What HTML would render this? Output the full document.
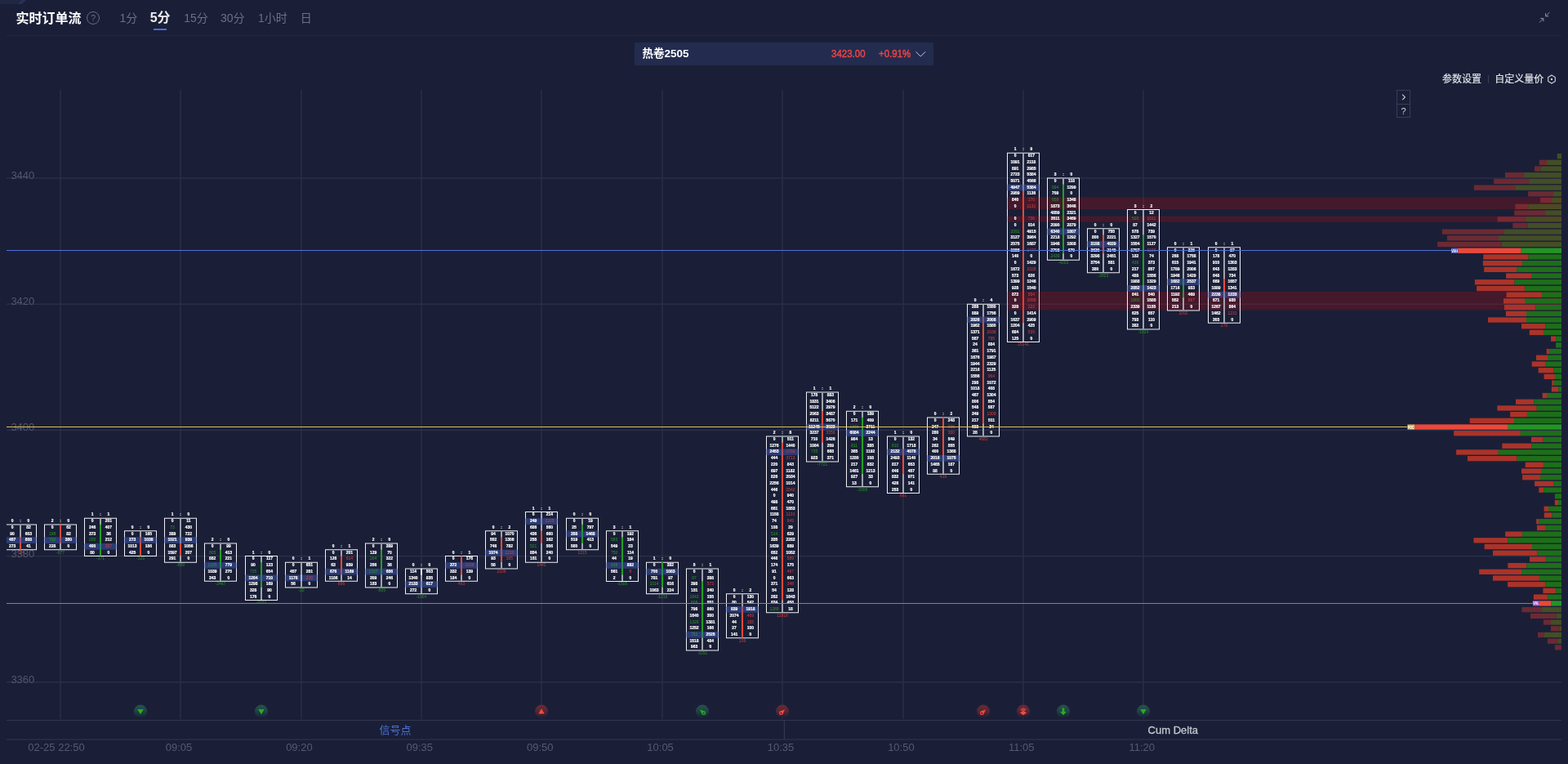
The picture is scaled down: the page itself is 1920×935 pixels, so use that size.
<!DOCTYPE html>
<html lang="zh-CN"><head><meta charset="utf-8"><title>实时订单流</title>
<style>
html,body{margin:0;padding:0;background:#1a1f37;}
body{width:1920px;height:935px;position:relative;overflow:hidden;font-family:"Liberation Sans","Noto Sans CJK SC",sans-serif;}
.abs{position:absolute;white-space:nowrap;line-height:1;}
.tab{font-size:14px;color:#6b7088;top:15px;}
</style></head><body>
<svg width="1920" height="935" viewBox="0 0 1920 935" style="position:absolute;left:0;top:0" font-family="'Liberation Sans',sans-serif">
<rect x="73" y="110" width="2" height="770" fill="#252a41"/>
<rect x="220" y="110" width="2" height="770" fill="#252a41"/>
<rect x="368" y="110" width="2" height="770" fill="#252a41"/>
<rect x="515" y="110" width="2" height="770" fill="#252a41"/>
<rect x="662" y="110" width="2" height="770" fill="#252a41"/>
<rect x="810" y="110" width="2" height="770" fill="#252a41"/>
<rect x="957" y="110" width="2" height="770" fill="#252a41"/>
<rect x="1105" y="110" width="2" height="770" fill="#252a41"/>
<rect x="1252" y="110" width="2" height="770" fill="#252a41"/>
<rect x="1399" y="110" width="2" height="770" fill="#252a41"/>
<rect x="8" y="217.25" width="1904" height="1.5" fill="#2a2f47"/>
<rect x="8" y="371.45" width="1904" height="1.5" fill="#2a2f47"/>
<rect x="8" y="525.65" width="1904" height="1.5" fill="#2a2f47"/>
<rect x="8" y="679.85" width="1904" height="1.5" fill="#2a2f47"/>
<rect x="8" y="834.05" width="1904" height="1.5" fill="#2a2f47"/>
<text x="13.4" y="219.0" font-size="13" fill="#53576d">3440</text>
<text x="13.4" y="373.2" font-size="13" fill="#53576d">3420</text>
<text x="13.4" y="527.4" font-size="13" fill="#53576d">3400</text>
<text x="13.4" y="681.6" font-size="13" fill="#53576d">3380</text>
<text x="13.4" y="835.8" font-size="13" fill="#53576d">3360</text>
<clipPath id="cc"><rect x="8" y="100" width="1904" height="800"/></clipPath>
<g clip-path="url(#cc)">
<g transform="translate(25,0)">
<path d="M-20,641.5h40v31.8h-40z M-19,642.5v29.8h38v-29.8z" fill="#f0f0f5" fill-rule="evenodd"/>
<rect x="-1" y="642.5" width="2" height="29.8" fill="#a0a3ad"/>
<rect x="-1" y="657.3" width="2" height="15.4" fill="#f04a38"/>
<rect x="-20" y="657.3" width="40" height="7.71" fill="#415ebb" fill-opacity="0.46"/>
</g>
<g transform="translate(74,0)">
<path d="M-20,641.5h40v31.8h-40z M-19,642.5v29.8h38v-29.8z" fill="#f0f0f5" fill-rule="evenodd"/>
<rect x="-1" y="642.5" width="2" height="29.8" fill="#a0a3ad"/>
<rect x="-1" y="641.9" width="2" height="23.1" fill="#f04a38"/>
<rect x="-20" y="657.3" width="40" height="7.71" fill="#415ebb" fill-opacity="0.46"/>
</g>
<g transform="translate(123,0)">
<path d="M-20,633.8h40v47.2h-40z M-19,634.8v45.2h38v-45.2z" fill="#f0f0f5" fill-rule="evenodd"/>
<rect x="-1" y="634.8" width="2" height="45.2" fill="#a0a3ad"/>
<rect x="-1" y="641.9" width="2" height="38.5" fill="#22a022"/>
<rect x="-20" y="665.0" width="40" height="7.71" fill="#415ebb" fill-opacity="0.46"/>
</g>
<g transform="translate(172,0)">
<path d="M-20,649.2h40v31.8h-40z M-19,650.2v29.8h38v-29.8z" fill="#f0f0f5" fill-rule="evenodd"/>
<rect x="-1" y="650.2" width="2" height="29.8" fill="#a0a3ad"/>
<rect x="-1" y="657.3" width="2" height="23.1" fill="#f04a38"/>
<rect x="-20" y="657.3" width="40" height="7.71" fill="#415ebb" fill-opacity="0.46"/>
</g>
<g transform="translate(221,0)">
<path d="M-20,633.8h40v55.0h-40z M-19,634.8v53.0h38v-53.0z" fill="#f0f0f5" fill-rule="evenodd"/>
<rect x="-1" y="634.8" width="2" height="53.0" fill="#a0a3ad"/>
<rect x="-1" y="665.0" width="2" height="15.4" fill="#f04a38"/>
<rect x="-20" y="657.3" width="40" height="7.71" fill="#415ebb" fill-opacity="0.46"/>
</g>
<g transform="translate(270,0)">
<path d="M-20,664.6h40v47.2h-40z M-19,665.6v45.2h38v-45.2z" fill="#f0f0f5" fill-rule="evenodd"/>
<rect x="-1" y="665.6" width="2" height="45.2" fill="#a0a3ad"/>
<rect x="-1" y="672.7" width="2" height="23.1" fill="#22a022"/>
<rect x="-20" y="688.1" width="40" height="7.71" fill="#415ebb" fill-opacity="0.46"/>
</g>
<g transform="translate(320,0)">
<path d="M-20,680.0h40v55.0h-40z M-19,681.0v53.0h38v-53.0z" fill="#f0f0f5" fill-rule="evenodd"/>
<rect x="-1" y="681.0" width="2" height="53.0" fill="#a0a3ad"/>
<rect x="-1" y="688.1" width="2" height="30.8" fill="#22a022"/>
<rect x="-20" y="703.5" width="40" height="7.71" fill="#415ebb" fill-opacity="0.46"/>
</g>
<g transform="translate(369,0)">
<path d="M-20,687.7h40v31.8h-40z M-19,688.7v29.8h38v-29.8z" fill="#f0f0f5" fill-rule="evenodd"/>
<rect x="-1" y="688.7" width="2" height="29.8" fill="#a0a3ad"/>
<rect x="-1" y="703.5" width="2" height="7.7" fill="#ffffff"/>
<rect x="-20" y="703.5" width="40" height="7.71" fill="#415ebb" fill-opacity="0.46"/>
</g>
<g transform="translate(418,0)">
<path d="M-20,672.3h40v39.5h-40z M-19,673.3v37.5h38v-37.5z" fill="#f0f0f5" fill-rule="evenodd"/>
<rect x="-1" y="673.3" width="2" height="37.5" fill="#a0a3ad"/>
<rect x="-1" y="680.4" width="2" height="23.1" fill="#f04a38"/>
<rect x="-20" y="695.8" width="40" height="7.71" fill="#415ebb" fill-opacity="0.46"/>
</g>
<g transform="translate(467,0)">
<path d="M-20,664.6h40v55.0h-40z M-19,665.6v53.0h38v-53.0z" fill="#f0f0f5" fill-rule="evenodd"/>
<rect x="-1" y="665.6" width="2" height="53.0" fill="#a0a3ad"/>
<rect x="-1" y="672.7" width="2" height="30.8" fill="#22a022"/>
<rect x="-20" y="695.8" width="40" height="7.71" fill="#415ebb" fill-opacity="0.46"/>
</g>
<g transform="translate(516,0)">
<path d="M-20,695.4h40v31.8h-40z M-19,696.4v29.8h38v-29.8z" fill="#f0f0f5" fill-rule="evenodd"/>
<rect x="-1" y="696.4" width="2" height="29.8" fill="#a0a3ad"/>
<rect x="-1" y="695.8" width="2" height="7.7" fill="#ffffff"/>
<rect x="-20" y="711.2" width="40" height="7.71" fill="#415ebb" fill-opacity="0.46"/>
</g>
<g transform="translate(565,0)">
<path d="M-20,680.0h40v31.8h-40z M-19,681.0v29.8h38v-29.8z" fill="#f0f0f5" fill-rule="evenodd"/>
<rect x="-1" y="681.0" width="2" height="29.8" fill="#a0a3ad"/>
<rect x="-1" y="680.4" width="2" height="23.1" fill="#f04a38"/>
<rect x="-20" y="688.1" width="40" height="7.71" fill="#415ebb" fill-opacity="0.46"/>
</g>
<g transform="translate(614,0)">
<path d="M-20,649.2h40v47.2h-40z M-19,650.2v45.2h38v-45.2z" fill="#f0f0f5" fill-rule="evenodd"/>
<rect x="-1" y="650.2" width="2" height="45.2" fill="#a0a3ad"/>
<rect x="-1" y="657.3" width="2" height="30.8" fill="#f04a38"/>
<rect x="-20" y="672.7" width="40" height="7.71" fill="#415ebb" fill-opacity="0.46"/>
</g>
<g transform="translate(663,0)">
<path d="M-20,626.0h40v62.7h-40z M-19,627.0v60.7h38v-60.7z" fill="#f0f0f5" fill-rule="evenodd"/>
<rect x="-1" y="627.0" width="2" height="60.7" fill="#a0a3ad"/>
<rect x="-1" y="649.6" width="2" height="15.4" fill="#f04a38"/>
<rect x="-20" y="634.2" width="40" height="7.71" fill="#415ebb" fill-opacity="0.46"/>
</g>
<g transform="translate(713,0)">
<path d="M-20,633.8h40v39.5h-40z M-19,634.8v37.5h38v-37.5z" fill="#f0f0f5" fill-rule="evenodd"/>
<rect x="-1" y="634.8" width="2" height="37.5" fill="#a0a3ad"/>
<rect x="-1" y="641.9" width="2" height="23.1" fill="#22a022"/>
<rect x="-20" y="649.6" width="40" height="7.71" fill="#415ebb" fill-opacity="0.46"/>
</g>
<g transform="translate(762,0)">
<path d="M-20,649.2h40v62.7h-40z M-19,650.2v60.7h38v-60.7z" fill="#f0f0f5" fill-rule="evenodd"/>
<rect x="-1" y="650.2" width="2" height="60.7" fill="#a0a3ad"/>
<rect x="-1" y="657.3" width="2" height="46.2" fill="#22a022"/>
<rect x="-20" y="688.1" width="40" height="7.71" fill="#415ebb" fill-opacity="0.46"/>
</g>
<g transform="translate(811,0)">
<path d="M-20,687.7h40v39.5h-40z M-19,688.7v37.5h38v-37.5z" fill="#f0f0f5" fill-rule="evenodd"/>
<rect x="-1" y="688.7" width="2" height="37.5" fill="#a0a3ad"/>
<rect x="-1" y="688.1" width="2" height="30.8" fill="#22a022"/>
<rect x="-20" y="695.8" width="40" height="7.71" fill="#415ebb" fill-opacity="0.46"/>
</g>
<g transform="translate(860,0)">
<path d="M-20,695.4h40v101.2h-40z M-19,696.4v99.2h38v-99.2z" fill="#f0f0f5" fill-rule="evenodd"/>
<rect x="-1" y="696.4" width="2" height="99.2" fill="#a0a3ad"/>
<rect x="-1" y="711.2" width="2" height="69.4" fill="#22a022"/>
<rect x="-20" y="772.9" width="40" height="7.71" fill="#415ebb" fill-opacity="0.46"/>
</g>
<g transform="translate(909,0)">
<path d="M-20,726.2h40v55.0h-40z M-19,727.2v53.0h38v-53.0z" fill="#f0f0f5" fill-rule="evenodd"/>
<rect x="-1" y="727.2" width="2" height="53.0" fill="#a0a3ad"/>
<rect x="-1" y="742.1" width="2" height="38.5" fill="#f04a38"/>
<rect x="-20" y="742.1" width="40" height="7.71" fill="#415ebb" fill-opacity="0.46"/>
</g>
<g transform="translate(958,0)">
<path d="M-20,533.5h40v216.8h-40z M-19,534.5v214.8h38v-214.8z" fill="#f0f0f5" fill-rule="evenodd"/>
<rect x="-1" y="534.5" width="2" height="214.8" fill="#a0a3ad"/>
<rect x="-1" y="541.7" width="2" height="192.7" fill="#f04a38"/>
<rect x="-20" y="549.4" width="40" height="7.71" fill="#415ebb" fill-opacity="0.46"/>
</g>
<g transform="translate(1007,0)">
<path d="M-20,479.6h40v85.8h-40z M-19,480.6v83.8h38v-83.8z" fill="#f0f0f5" fill-rule="evenodd"/>
<rect x="-1" y="480.6" width="2" height="83.8" fill="#a0a3ad"/>
<rect x="-1" y="503.1" width="2" height="38.5" fill="#f04a38"/>
<rect x="-20" y="518.5" width="40" height="7.71" fill="#415ebb" fill-opacity="0.46"/>
</g>
<g transform="translate(1056,0)">
<path d="M-20,502.7h40v93.5h-40z M-19,503.7v91.5h38v-91.5z" fill="#f0f0f5" fill-rule="evenodd"/>
<rect x="-1" y="503.7" width="2" height="91.5" fill="#a0a3ad"/>
<rect x="-1" y="510.8" width="2" height="69.4" fill="#22a022"/>
<rect x="-20" y="526.2" width="40" height="7.71" fill="#415ebb" fill-opacity="0.46"/>
</g>
<g transform="translate(1106,0)">
<path d="M-20,533.5h40v70.4h-40z M-19,534.5v68.4h38v-68.4z" fill="#f0f0f5" fill-rule="evenodd"/>
<rect x="-1" y="534.5" width="2" height="68.4" fill="#a0a3ad"/>
<rect x="-1" y="549.4" width="2" height="30.8" fill="#f04a38"/>
<rect x="-20" y="549.4" width="40" height="7.71" fill="#415ebb" fill-opacity="0.46"/>
</g>
<g transform="translate(1155,0)">
<path d="M-20,510.4h40v70.4h-40z M-19,511.4v68.4h38v-68.4z" fill="#f0f0f5" fill-rule="evenodd"/>
<rect x="-1" y="511.4" width="2" height="68.4" fill="#a0a3ad"/>
<rect x="-1" y="510.8" width="2" height="46.2" fill="#f04a38"/>
<rect x="-20" y="557.1" width="40" height="7.71" fill="#415ebb" fill-opacity="0.46"/>
</g>
<g transform="translate(1204,0)">
<path d="M-20,371.7h40v162.9h-40z M-19,372.7v160.9h38v-160.9z" fill="#f0f0f5" fill-rule="evenodd"/>
<rect x="-1" y="372.7" width="2" height="160.9" fill="#a0a3ad"/>
<rect x="-1" y="387.5" width="2" height="131.0" fill="#f04a38"/>
<rect x="-20" y="387.5" width="40" height="7.71" fill="#415ebb" fill-opacity="0.46"/>
</g>
<g transform="translate(1253,0)">
<path d="M-20,186.7h40v232.2h-40z M-19,187.7v230.2h38v-230.2z" fill="#f0f0f5" fill-rule="evenodd"/>
<rect x="-1" y="187.7" width="2" height="230.2" fill="#a0a3ad"/>
<rect x="-1" y="233.3" width="2" height="161.9" fill="#f04a38"/>
<rect x="-20" y="225.6" width="40" height="7.71" fill="#415ebb" fill-opacity="0.46"/>
</g>
</g>
<rect x="1233" y="241.3" width="679" height="14.9" fill="#ff0000" fill-opacity="0.185"/>
<rect x="1233" y="264.5" width="679" height="7.2" fill="#ff0000" fill-opacity="0.185"/>
<rect x="1233" y="357.0" width="679" height="22.6" fill="#ff0000" fill-opacity="0.185"/>
<g clip-path="url(#cc)">
<g transform="translate(1302,0)">
<path d="M-20,217.5h40v101.2h-40z M-19,218.5v99.2h38v-99.2z" fill="#f0f0f5" fill-rule="evenodd"/>
<rect x="-1" y="218.5" width="2" height="99.2" fill="#a0a3ad"/>
<rect x="-1" y="225.6" width="2" height="84.8" fill="#22a022"/>
<rect x="-20" y="279.6" width="40" height="7.71" fill="#415ebb" fill-opacity="0.46"/>
</g>
<g transform="translate(1351,0)">
<path d="M-20,279.2h40v55.0h-40z M-19,280.2v53.0h38v-53.0z" fill="#f0f0f5" fill-rule="evenodd"/>
<rect x="-1" y="280.2" width="2" height="53.0" fill="#a0a3ad"/>
<rect x="-1" y="287.3" width="2" height="23.1" fill="#f04a38"/>
<rect x="-20" y="295.0" width="40" height="7.71" fill="#415ebb" fill-opacity="0.46"/>
</g>
<g transform="translate(1400,0)">
<path d="M-20,256.1h40v147.5h-40z M-19,257.1v145.5h38v-145.5z" fill="#f0f0f5" fill-rule="evenodd"/>
<rect x="-1" y="257.1" width="2" height="145.5" fill="#a0a3ad"/>
<rect x="-1" y="287.3" width="2" height="61.7" fill="#22a022"/>
<rect x="-20" y="349.0" width="40" height="7.71" fill="#415ebb" fill-opacity="0.46"/>
</g>
<g transform="translate(1449,0)">
<path d="M-20,302.3h40v78.1h-40z M-19,303.3v76.1h38v-76.1z" fill="#f0f0f5" fill-rule="evenodd"/>
<rect x="-1" y="303.3" width="2" height="76.1" fill="#a0a3ad"/>
<rect x="-1" y="341.2" width="2" height="23.1" fill="#22a022"/>
<rect x="-20" y="341.2" width="40" height="7.71" fill="#415ebb" fill-opacity="0.46"/>
</g>
<g transform="translate(1499,0)">
<path d="M-20,302.3h40v93.5h-40z M-19,303.3v91.5h38v-91.5z" fill="#f0f0f5" fill-rule="evenodd"/>
<rect x="-1" y="303.3" width="2" height="91.5" fill="#a0a3ad"/>
<rect x="-1" y="341.2" width="2" height="15.4" fill="#f04a38"/>
<rect x="-20" y="356.7" width="40" height="7.71" fill="#415ebb" fill-opacity="0.46"/>
</g>
</g>
<rect x="1906.8" y="188.0" width="5.2" height="6.3" fill="#434d27"/>
<rect x="1884.8" y="195.7" width="9.2" height="6.3" fill="#6a2a33"/>
<rect x="1894.0" y="195.7" width="18.0" height="6.3" fill="#434d27"/>
<rect x="1879.0" y="203.4" width="7.7" height="6.3" fill="#6a2a33"/>
<rect x="1886.7" y="203.4" width="25.3" height="6.3" fill="#434d27"/>
<rect x="1843.0" y="211.1" width="23.1" height="6.3" fill="#6a2a33"/>
<rect x="1866.1" y="211.1" width="45.9" height="6.3" fill="#434d27"/>
<rect x="1829.2" y="218.8" width="42.9" height="6.3" fill="#6a2a33"/>
<rect x="1872.1" y="218.8" width="39.9" height="6.3" fill="#434d27"/>
<rect x="1804.9" y="226.5" width="50.3" height="6.3" fill="#6a2a33"/>
<rect x="1855.2" y="226.5" width="56.8" height="6.3" fill="#434d27"/>
<rect x="1871.1" y="234.2" width="31.0" height="6.3" fill="#6a2a33"/>
<rect x="1902.1" y="234.2" width="9.9" height="6.3" fill="#434d27"/>
<rect x="1886.1" y="241.9" width="13.0" height="6.3" fill="#7a2831"/>
<rect x="1899.1" y="241.9" width="12.9" height="6.3" fill="#4c4a24"/>
<rect x="1855.3" y="249.7" width="16.0" height="6.3" fill="#7a2831"/>
<rect x="1871.3" y="249.7" width="40.7" height="6.3" fill="#4c4a24"/>
<rect x="1854.2" y="257.4" width="37.9" height="6.3" fill="#6a2a33"/>
<rect x="1892.1" y="257.4" width="19.9" height="6.3" fill="#434d27"/>
<rect x="1833.6" y="265.1" width="34.2" height="6.3" fill="#7a2831"/>
<rect x="1867.8" y="265.1" width="44.2" height="6.3" fill="#4c4a24"/>
<rect x="1852.3" y="272.8" width="18.6" height="6.3" fill="#6a2a33"/>
<rect x="1870.9" y="272.8" width="41.1" height="6.3" fill="#434d27"/>
<rect x="1765.9" y="280.5" width="76.1" height="6.3" fill="#6a2a33"/>
<rect x="1842.0" y="280.5" width="70.0" height="6.3" fill="#434d27"/>
<rect x="1771.9" y="288.2" width="63.1" height="6.3" fill="#6a2a33"/>
<rect x="1835.0" y="288.2" width="77.0" height="6.3" fill="#434d27"/>
<rect x="1760.1" y="295.9" width="78.5" height="6.3" fill="#6a2a33"/>
<rect x="1838.6" y="295.9" width="73.4" height="6.3" fill="#434d27"/>
<rect x="1785.2" y="303.6" width="77.5" height="6.3" fill="#ea483a"/>
<rect x="1862.7" y="303.6" width="49.3" height="6.3" fill="#239423"/>
<rect x="1816.3" y="311.3" width="55.3" height="6.3" fill="#ab3329"/>
<rect x="1871.6" y="311.3" width="40.4" height="6.3" fill="#1e6e1a"/>
<rect x="1815.8" y="319.0" width="48.3" height="6.3" fill="#ab3329"/>
<rect x="1864.1" y="319.0" width="47.9" height="6.3" fill="#1e6e1a"/>
<rect x="1817.2" y="326.7" width="39.9" height="6.3" fill="#ab3329"/>
<rect x="1857.1" y="326.7" width="54.9" height="6.3" fill="#1e6e1a"/>
<rect x="1844.1" y="334.4" width="30.9" height="6.3" fill="#ab3329"/>
<rect x="1875.0" y="334.4" width="37.0" height="6.3" fill="#1e6e1a"/>
<rect x="1805.9" y="342.1" width="48.6" height="6.3" fill="#ab3329"/>
<rect x="1854.5" y="342.1" width="57.5" height="6.3" fill="#1e6e1a"/>
<rect x="1808.1" y="349.9" width="59.4" height="6.3" fill="#ab3329"/>
<rect x="1867.5" y="349.9" width="44.5" height="6.3" fill="#1e6e1a"/>
<rect x="1844.6" y="357.6" width="43.6" height="6.3" fill="#ab3329"/>
<rect x="1888.2" y="357.6" width="23.8" height="6.3" fill="#1e6e1a"/>
<rect x="1841.0" y="365.3" width="26.0" height="6.3" fill="#ab3329"/>
<rect x="1867.0" y="365.3" width="45.0" height="6.3" fill="#1e6e1a"/>
<rect x="1842.0" y="373.0" width="37.8" height="6.3" fill="#ab3329"/>
<rect x="1879.8" y="373.0" width="32.2" height="6.3" fill="#1e6e1a"/>
<rect x="1843.9" y="380.7" width="25.1" height="6.3" fill="#ab3329"/>
<rect x="1869.0" y="380.7" width="43.0" height="6.3" fill="#1e6e1a"/>
<rect x="1822.0" y="388.4" width="47.0" height="6.3" fill="#ab3329"/>
<rect x="1869.0" y="388.4" width="43.0" height="6.3" fill="#1e6e1a"/>
<rect x="1863.0" y="396.1" width="29.5" height="6.3" fill="#ab3329"/>
<rect x="1892.5" y="396.1" width="19.5" height="6.3" fill="#1e6e1a"/>
<rect x="1872.8" y="403.8" width="17.3" height="6.3" fill="#ab3329"/>
<rect x="1890.1" y="403.8" width="21.9" height="6.3" fill="#1e6e1a"/>
<rect x="1899.1" y="411.5" width="6.0" height="6.3" fill="#ab3329"/>
<rect x="1905.1" y="411.5" width="6.9" height="6.3" fill="#1e6e1a"/>
<rect x="1905.1" y="419.2" width="6.9" height="6.3" fill="#1e6e1a"/>
<rect x="1893.7" y="426.9" width="3.2" height="6.3" fill="#ab3329"/>
<rect x="1896.9" y="426.9" width="15.1" height="6.3" fill="#1e6e1a"/>
<rect x="1881.0" y="434.6" width="14.0" height="6.3" fill="#ab3329"/>
<rect x="1895.0" y="434.6" width="17.0" height="6.3" fill="#1e6e1a"/>
<rect x="1875.7" y="442.4" width="16.4" height="6.3" fill="#ab3329"/>
<rect x="1892.1" y="442.4" width="19.9" height="6.3" fill="#1e6e1a"/>
<rect x="1883.7" y="450.1" width="18.7" height="6.3" fill="#ab3329"/>
<rect x="1902.4" y="450.1" width="9.6" height="6.3" fill="#1e6e1a"/>
<rect x="1890.6" y="457.8" width="13.3" height="6.3" fill="#ab3329"/>
<rect x="1903.9" y="457.8" width="8.1" height="6.3" fill="#1e6e1a"/>
<rect x="1900.2" y="465.5" width="2.7" height="6.3" fill="#ab3329"/>
<rect x="1902.9" y="465.5" width="9.1" height="6.3" fill="#1e6e1a"/>
<rect x="1899.8" y="473.2" width="8.6" height="6.3" fill="#ab3329"/>
<rect x="1908.4" y="473.2" width="3.6" height="6.3" fill="#1e6e1a"/>
<rect x="1888.7" y="480.9" width="5.3" height="6.3" fill="#ab3329"/>
<rect x="1894.0" y="480.9" width="18.0" height="6.3" fill="#1e6e1a"/>
<rect x="1856.0" y="488.6" width="22.3" height="6.3" fill="#ab3329"/>
<rect x="1878.3" y="488.6" width="33.7" height="6.3" fill="#1e6e1a"/>
<rect x="1833.4" y="496.3" width="48.3" height="6.3" fill="#ab3329"/>
<rect x="1881.7" y="496.3" width="30.3" height="6.3" fill="#1e6e1a"/>
<rect x="1849.2" y="504.0" width="20.7" height="6.3" fill="#ab3329"/>
<rect x="1869.9" y="504.0" width="42.1" height="6.3" fill="#1e6e1a"/>
<rect x="1799.7" y="511.7" width="54.3" height="6.3" fill="#ab3329"/>
<rect x="1854.0" y="511.7" width="58.0" height="6.3" fill="#1e6e1a"/>
<rect x="1732.0" y="519.4" width="114.8" height="6.3" fill="#ea483a"/>
<rect x="1846.8" y="519.4" width="65.2" height="6.3" fill="#239423"/>
<rect x="1780.2" y="527.1" width="81.6" height="6.3" fill="#ab3329"/>
<rect x="1861.8" y="527.1" width="50.2" height="6.3" fill="#1e6e1a"/>
<rect x="1874.9" y="534.8" width="14.8" height="6.3" fill="#ab3329"/>
<rect x="1889.7" y="534.8" width="22.3" height="6.3" fill="#1e6e1a"/>
<rect x="1839.3" y="542.6" width="35.9" height="6.3" fill="#ab3329"/>
<rect x="1875.2" y="542.6" width="36.8" height="6.3" fill="#1e6e1a"/>
<rect x="1783.1" y="550.3" width="51.7" height="6.3" fill="#ab3329"/>
<rect x="1834.8" y="550.3" width="77.2" height="6.3" fill="#1e6e1a"/>
<rect x="1797.0" y="558.0" width="60.6" height="6.3" fill="#ab3329"/>
<rect x="1857.6" y="558.0" width="54.4" height="6.3" fill="#1e6e1a"/>
<rect x="1867.7" y="565.7" width="22.9" height="6.3" fill="#ab3329"/>
<rect x="1890.6" y="565.7" width="21.4" height="6.3" fill="#1e6e1a"/>
<rect x="1863.0" y="573.4" width="24.9" height="6.3" fill="#ab3329"/>
<rect x="1887.9" y="573.4" width="24.1" height="6.3" fill="#1e6e1a"/>
<rect x="1864.1" y="581.1" width="22.0" height="6.3" fill="#ab3329"/>
<rect x="1886.1" y="581.1" width="25.9" height="6.3" fill="#1e6e1a"/>
<rect x="1879.1" y="588.8" width="23.0" height="6.3" fill="#ab3329"/>
<rect x="1902.1" y="588.8" width="9.9" height="6.3" fill="#1e6e1a"/>
<rect x="1884.3" y="596.5" width="5.9" height="6.3" fill="#ab3329"/>
<rect x="1890.2" y="596.5" width="21.8" height="6.3" fill="#1e6e1a"/>
<rect x="1903.9" y="604.2" width="8.1" height="6.3" fill="#1e6e1a"/>
<rect x="1903.8" y="611.9" width="4.2" height="6.3" fill="#ab3329"/>
<rect x="1908.0" y="611.9" width="4.0" height="6.3" fill="#1e6e1a"/>
<rect x="1890.6" y="619.6" width="5.5" height="6.3" fill="#ab3329"/>
<rect x="1896.1" y="619.6" width="15.9" height="6.3" fill="#1e6e1a"/>
<rect x="1890.8" y="627.3" width="9.7" height="6.3" fill="#ab3329"/>
<rect x="1900.5" y="627.3" width="11.5" height="6.3" fill="#1e6e1a"/>
<rect x="1881.2" y="635.1" width="2.9" height="6.3" fill="#ab3329"/>
<rect x="1884.1" y="635.1" width="27.9" height="6.3" fill="#1e6e1a"/>
<rect x="1882.0" y="642.8" width="10.0" height="6.3" fill="#ab3329"/>
<rect x="1892.0" y="642.8" width="20.0" height="6.3" fill="#1e6e1a"/>
<rect x="1843.2" y="650.5" width="20.9" height="6.3" fill="#ab3329"/>
<rect x="1864.1" y="650.5" width="47.9" height="6.3" fill="#1e6e1a"/>
<rect x="1804.5" y="658.2" width="41.9" height="6.3" fill="#ab3329"/>
<rect x="1846.4" y="658.2" width="65.6" height="6.3" fill="#1e6e1a"/>
<rect x="1817.7" y="665.9" width="58.3" height="6.3" fill="#ab3329"/>
<rect x="1876.0" y="665.9" width="36.0" height="6.3" fill="#1e6e1a"/>
<rect x="1828.0" y="673.6" width="54.2" height="6.3" fill="#ab3329"/>
<rect x="1882.2" y="673.6" width="29.8" height="6.3" fill="#1e6e1a"/>
<rect x="1873.0" y="681.3" width="19.0" height="6.3" fill="#ab3329"/>
<rect x="1892.0" y="681.3" width="20.0" height="6.3" fill="#1e6e1a"/>
<rect x="1846.4" y="689.0" width="23.0" height="6.3" fill="#ab3329"/>
<rect x="1869.4" y="689.0" width="42.6" height="6.3" fill="#1e6e1a"/>
<rect x="1811.2" y="696.7" width="51.8" height="6.3" fill="#ab3329"/>
<rect x="1863.0" y="696.7" width="49.0" height="6.3" fill="#1e6e1a"/>
<rect x="1828.0" y="704.4" width="56.9" height="6.3" fill="#ab3329"/>
<rect x="1884.9" y="704.4" width="27.1" height="6.3" fill="#1e6e1a"/>
<rect x="1846.1" y="712.1" width="46.2" height="6.3" fill="#ab3329"/>
<rect x="1892.3" y="712.1" width="19.7" height="6.3" fill="#1e6e1a"/>
<rect x="1889.4" y="719.8" width="15.9" height="6.3" fill="#ab3329"/>
<rect x="1905.3" y="719.8" width="6.7" height="6.3" fill="#1e6e1a"/>
<rect x="1877.9" y="727.5" width="17.7" height="6.3" fill="#ab3329"/>
<rect x="1895.6" y="727.5" width="16.4" height="6.3" fill="#1e6e1a"/>
<rect x="1884.9" y="735.3" width="14.2" height="6.3" fill="#ea483a"/>
<rect x="1899.1" y="735.3" width="12.9" height="6.3" fill="#239423"/>
<rect x="1863.4" y="743.0" width="24.6" height="6.3" fill="#6a2a33"/>
<rect x="1888.0" y="743.0" width="24.0" height="6.3" fill="#434d27"/>
<rect x="1874.0" y="750.7" width="31.5" height="6.3" fill="#6a2a33"/>
<rect x="1905.5" y="750.7" width="6.5" height="6.3" fill="#434d27"/>
<rect x="1889.9" y="758.4" width="9.1" height="6.3" fill="#6a2a33"/>
<rect x="1899.0" y="758.4" width="13.0" height="6.3" fill="#434d27"/>
<rect x="1899.0" y="766.1" width="10.7" height="6.3" fill="#6a2a33"/>
<rect x="1909.7" y="766.1" width="2.3" height="6.3" fill="#434d27"/>
<rect x="1883.0" y="773.8" width="7.4" height="6.3" fill="#6a2a33"/>
<rect x="1890.4" y="773.8" width="21.6" height="6.3" fill="#434d27"/>
<rect x="1895.0" y="781.5" width="12.9" height="6.3" fill="#6a2a33"/>
<rect x="1907.9" y="781.5" width="4.1" height="6.3" fill="#434d27"/>
<rect x="1903.9" y="789.2" width="8.1" height="6.3" fill="#6a2a33"/>
<g clip-path="url(#cc)">
<g transform="translate(25,0)">
<g transform="scale(0.8,1)" font-size="6.2" font-weight="bold" text-anchor="middle" fill="#fff" stroke="#fff" stroke-width="0.2" paint-order="stroke">
<text y="639.1" font-size="6.1"><tspan x="-12.4">0</tspan><tspan x="0">:</tspan><tspan x="12.4">0</tspan></text>
<text x="-12.4" y="647.0">0</text>
<text x="12.4" y="647.0">82</text>
<text x="-12.4" y="654.7">90</text>
<text x="12.4" y="654.7">603</text>
<text x="-12.4" y="662.4">457</text>
<text x="12.4" y="662.4">808</text>
<text x="-12.4" y="670.1">273</text>
<text x="12.4" y="670.1">41</text>
<text x="0" y="677.8" font-weight="normal" stroke="none" fill="#d84040" fill-opacity="0.9">-114</text>
</g>
</g>
<g transform="translate(74,0)">
<g transform="scale(0.8,1)" font-size="6.2" font-weight="bold" text-anchor="middle" fill="#fff" stroke="#fff" stroke-width="0.2" paint-order="stroke">
<text y="639.1" font-size="6.1"><tspan x="-12.4">2</tspan><tspan x="0">:</tspan><tspan x="12.4">0</tspan></text>
<text x="-12.4" y="647.0">0</text>
<text x="12.4" y="647.0">62</text>
<text x="-12.4" y="654.7" fill="#2a9a2a" font-weight="normal" stroke="none">198</text>
<text x="12.4" y="654.7">82</text>
<text x="-12.4" y="662.4" fill="#2a9a2a" font-weight="normal" stroke="none">702</text>
<text x="12.4" y="662.4">380</text>
<text x="-12.4" y="670.1">228</text>
<text x="12.4" y="670.1">0</text>
<text x="0" y="677.8" font-weight="normal" stroke="none" fill="#2a9a2a" fill-opacity="0.9">-677</text>
</g>
</g>
<g transform="translate(123,0)">
<g transform="scale(0.8,1)" font-size="6.2" font-weight="bold" text-anchor="middle" fill="#fff" stroke="#fff" stroke-width="0.2" paint-order="stroke">
<text y="631.4" font-size="6.1"><tspan x="-12.4">1</tspan><tspan x="0">:</tspan><tspan x="12.4">1</tspan></text>
<text x="-12.4" y="639.3">0</text>
<text x="12.4" y="639.3">201</text>
<text x="-12.4" y="647.0">246</text>
<text x="12.4" y="647.0">407</text>
<text x="-12.4" y="654.7">373</text>
<text x="12.4" y="654.7">36</text>
<text x="-12.4" y="662.4" fill="#2a9a2a" font-weight="normal" stroke="none">205</text>
<text x="12.4" y="662.4">212</text>
<text x="-12.4" y="670.1">400</text>
<text x="12.4" y="670.1" fill="#d84040" font-weight="normal" stroke="none">357</text>
<text x="-12.4" y="677.8">80</text>
<text x="12.4" y="677.8">0</text>
<text x="0" y="685.5" font-weight="normal" stroke="none" fill="#2a9a2a" fill-opacity="0.9">-171</text>
</g>
</g>
<g transform="translate(172,0)">
<g transform="scale(0.8,1)" font-size="6.2" font-weight="bold" text-anchor="middle" fill="#fff" stroke="#fff" stroke-width="0.2" paint-order="stroke">
<text y="646.8" font-size="6.1"><tspan x="-12.4">0</tspan><tspan x="0">:</tspan><tspan x="12.4">0</tspan></text>
<text x="-12.4" y="654.7">0</text>
<text x="12.4" y="654.7">165</text>
<text x="-12.4" y="662.4">273</text>
<text x="12.4" y="662.4">1038</text>
<text x="-12.4" y="670.1">1013</text>
<text x="12.4" y="670.1">186</text>
<text x="-12.4" y="677.8">425</text>
<text x="12.4" y="677.8">0</text>
<text x="0" y="685.5" font-weight="normal" stroke="none" fill="#2a9a2a" fill-opacity="0.9">-329</text>
</g>
</g>
<g transform="translate(221,0)">
<g transform="scale(0.8,1)" font-size="6.2" font-weight="bold" text-anchor="middle" fill="#fff" stroke="#fff" stroke-width="0.2" paint-order="stroke">
<text y="631.4" font-size="6.1"><tspan x="-12.4">1</tspan><tspan x="0">:</tspan><tspan x="12.4">0</tspan></text>
<text x="-12.4" y="639.3">0</text>
<text x="12.4" y="639.3">11</text>
<text x="-12.4" y="647.0" fill="#2a9a2a" font-weight="normal" stroke="none">73</text>
<text x="12.4" y="647.0">430</text>
<text x="-12.4" y="654.7">389</text>
<text x="12.4" y="654.7">722</text>
<text x="-12.4" y="662.4">1021</text>
<text x="12.4" y="662.4">939</text>
<text x="-12.4" y="670.1">883</text>
<text x="12.4" y="670.1">1056</text>
<text x="-12.4" y="677.8">1597</text>
<text x="12.4" y="677.8">207</text>
<text x="-12.4" y="685.5">291</text>
<text x="12.4" y="685.5">0</text>
<text x="0" y="693.2" font-weight="normal" stroke="none" fill="#2a9a2a" fill-opacity="0.9">-889</text>
</g>
</g>
<g transform="translate(270,0)">
<g transform="scale(0.8,1)" font-size="6.2" font-weight="bold" text-anchor="middle" fill="#fff" stroke="#fff" stroke-width="0.2" paint-order="stroke">
<text y="662.2" font-size="6.1"><tspan x="-12.4">2</tspan><tspan x="0">:</tspan><tspan x="12.4">0</tspan></text>
<text x="-12.4" y="670.1">0</text>
<text x="12.4" y="670.1">99</text>
<text x="-12.4" y="677.8" fill="#2a9a2a" font-weight="normal" stroke="none">805</text>
<text x="12.4" y="677.8">413</text>
<text x="-12.4" y="685.5">882</text>
<text x="12.4" y="685.5">221</text>
<text x="-12.4" y="693.2" fill="#2a9a2a" font-weight="normal" stroke="none">1265</text>
<text x="12.4" y="693.2">779</text>
<text x="-12.4" y="700.9">1039</text>
<text x="12.4" y="700.9">275</text>
<text x="-12.4" y="708.6">343</text>
<text x="12.4" y="708.6">0</text>
<text x="0" y="716.3" font-weight="normal" stroke="none" fill="#2a9a2a" fill-opacity="0.9">-2467</text>
</g>
</g>
<g transform="translate(320,0)">
<g transform="scale(0.8,1)" font-size="6.2" font-weight="bold" text-anchor="middle" fill="#fff" stroke="#fff" stroke-width="0.2" paint-order="stroke">
<text y="677.6" font-size="6.1"><tspan x="-12.4">1</tspan><tspan x="0">:</tspan><tspan x="12.4">0</tspan></text>
<text x="-12.4" y="685.5">0</text>
<text x="12.4" y="685.5">117</text>
<text x="-12.4" y="693.2">90</text>
<text x="12.4" y="693.2">123</text>
<text x="-12.4" y="700.9" fill="#2a9a2a" font-weight="normal" stroke="none">725</text>
<text x="12.4" y="700.9">654</text>
<text x="-12.4" y="708.6">1284</text>
<text x="12.4" y="708.6">710</text>
<text x="-12.4" y="716.3">1298</text>
<text x="12.4" y="716.3">169</text>
<text x="-12.4" y="724.0">328</text>
<text x="12.4" y="724.0">90</text>
<text x="-12.4" y="731.8">176</text>
<text x="12.4" y="731.8">0</text>
<text x="0" y="739.5" font-weight="normal" stroke="none" fill="#2a9a2a" fill-opacity="0.9">-2033</text>
</g>
</g>
<g transform="translate(369,0)">
<g transform="scale(0.8,1)" font-size="6.2" font-weight="bold" text-anchor="middle" fill="#fff" stroke="#fff" stroke-width="0.2" paint-order="stroke">
<text y="685.3" font-size="6.1"><tspan x="-12.4">0</tspan><tspan x="0">:</tspan><tspan x="12.4">1</tspan></text>
<text x="-12.4" y="693.2">0</text>
<text x="12.4" y="693.2">651</text>
<text x="-12.4" y="700.9">457</text>
<text x="12.4" y="700.9">281</text>
<text x="-12.4" y="708.6">1178</text>
<text x="12.4" y="708.6" fill="#d84040" font-weight="normal" stroke="none">239</text>
<text x="-12.4" y="716.3">56</text>
<text x="12.4" y="716.3">0</text>
<text x="0" y="724.0" font-weight="normal" stroke="none" fill="#2a9a2a" fill-opacity="0.9">-20</text>
</g>
</g>
<g transform="translate(418,0)">
<g transform="scale(0.8,1)" font-size="6.2" font-weight="bold" text-anchor="middle" fill="#fff" stroke="#fff" stroke-width="0.2" paint-order="stroke">
<text y="669.9" font-size="6.1"><tspan x="-12.4">0</tspan><tspan x="0">:</tspan><tspan x="12.4">1</tspan></text>
<text x="-12.4" y="677.8">0</text>
<text x="12.4" y="677.8">201</text>
<text x="-12.4" y="685.5">126</text>
<text x="12.4" y="685.5" fill="#d84040" font-weight="normal" stroke="none">614</text>
<text x="-12.4" y="693.2">63</text>
<text x="12.4" y="693.2">939</text>
<text x="-12.4" y="700.9">676</text>
<text x="12.4" y="700.9">1169</text>
<text x="-12.4" y="708.6">1186</text>
<text x="12.4" y="708.6">14</text>
<text x="0" y="716.3" font-weight="normal" stroke="none" fill="#d84040" fill-opacity="0.9">886</text>
</g>
</g>
<g transform="translate(467,0)">
<g transform="scale(0.8,1)" font-size="6.2" font-weight="bold" text-anchor="middle" fill="#fff" stroke="#fff" stroke-width="0.2" paint-order="stroke">
<text y="662.2" font-size="6.1"><tspan x="-12.4">2</tspan><tspan x="0">:</tspan><tspan x="12.4">0</tspan></text>
<text x="-12.4" y="670.1">0</text>
<text x="12.4" y="670.1">389</text>
<text x="-12.4" y="677.8">129</text>
<text x="12.4" y="677.8">70</text>
<text x="-12.4" y="685.5" fill="#2a9a2a" font-weight="normal" stroke="none">204</text>
<text x="12.4" y="685.5">322</text>
<text x="-12.4" y="693.2">256</text>
<text x="12.4" y="693.2">36</text>
<text x="-12.4" y="700.9" fill="#2a9a2a" font-weight="normal" stroke="none">1337</text>
<text x="12.4" y="700.9">686</text>
<text x="-12.4" y="708.6">309</text>
<text x="12.4" y="708.6">246</text>
<text x="-12.4" y="716.3">153</text>
<text x="12.4" y="716.3">0</text>
<text x="0" y="724.0" font-weight="normal" stroke="none" fill="#2a9a2a" fill-opacity="0.9">-809</text>
</g>
</g>
<g transform="translate(516,0)">
<g transform="scale(0.8,1)" font-size="6.2" font-weight="bold" text-anchor="middle" fill="#fff" stroke="#fff" stroke-width="0.2" paint-order="stroke">
<text y="693.0" font-size="6.1"><tspan x="-12.4">0</tspan><tspan x="0">:</tspan><tspan x="12.4">0</tspan></text>
<text x="-12.4" y="700.9">114</text>
<text x="12.4" y="700.9">503</text>
<text x="-12.4" y="708.6">1340</text>
<text x="12.4" y="708.6">835</text>
<text x="-12.4" y="716.3">2133</text>
<text x="12.4" y="716.3">617</text>
<text x="-12.4" y="724.0">272</text>
<text x="12.4" y="724.0">0</text>
<text x="0" y="731.7" font-weight="normal" stroke="none" fill="#2a9a2a" fill-opacity="0.9">-1904</text>
</g>
</g>
<g transform="translate(565,0)">
<g transform="scale(0.8,1)" font-size="6.2" font-weight="bold" text-anchor="middle" fill="#fff" stroke="#fff" stroke-width="0.2" paint-order="stroke">
<text y="677.6" font-size="6.1"><tspan x="-12.4">0</tspan><tspan x="0">:</tspan><tspan x="12.4">1</tspan></text>
<text x="-12.4" y="685.5">0</text>
<text x="12.4" y="685.5">176</text>
<text x="-12.4" y="693.2">372</text>
<text x="12.4" y="693.2" fill="#d84040" font-weight="normal" stroke="none">1036</text>
<text x="-12.4" y="700.9">332</text>
<text x="12.4" y="700.9">139</text>
<text x="-12.4" y="708.6">184</text>
<text x="12.4" y="708.6">0</text>
<text x="0" y="716.3" font-weight="normal" stroke="none" fill="#d84040" fill-opacity="0.9">463</text>
</g>
</g>
<g transform="translate(614,0)">
<g transform="scale(0.8,1)" font-size="6.2" font-weight="bold" text-anchor="middle" fill="#fff" stroke="#fff" stroke-width="0.2" paint-order="stroke">
<text y="646.8" font-size="6.1"><tspan x="-12.4">0</tspan><tspan x="0">:</tspan><tspan x="12.4">2</tspan></text>
<text x="-12.4" y="654.7">94</text>
<text x="12.4" y="654.7">1070</text>
<text x="-12.4" y="662.4">502</text>
<text x="12.4" y="662.4">1306</text>
<text x="-12.4" y="670.1">746</text>
<text x="12.4" y="670.1">782</text>
<text x="-12.4" y="677.8">1074</text>
<text x="12.4" y="677.8" fill="#d84040" font-weight="normal" stroke="none">1210</text>
<text x="-12.4" y="685.5">93</text>
<text x="12.4" y="685.5" fill="#d84040" font-weight="normal" stroke="none">305</text>
<text x="-12.4" y="693.2">58</text>
<text x="12.4" y="693.2">0</text>
<text x="0" y="700.9" font-weight="normal" stroke="none" fill="#d84040" fill-opacity="0.9">2106</text>
</g>
</g>
<g transform="translate(663,0)">
<g transform="scale(0.8,1)" font-size="6.2" font-weight="bold" text-anchor="middle" fill="#fff" stroke="#fff" stroke-width="0.2" paint-order="stroke">
<text y="623.6" font-size="6.1"><tspan x="-12.4">1</tspan><tspan x="0">:</tspan><tspan x="12.4">1</tspan></text>
<text x="-12.4" y="631.5">0</text>
<text x="12.4" y="631.5">214</text>
<text x="-12.4" y="639.3">249</text>
<text x="12.4" y="639.3" fill="#d84040" font-weight="normal" stroke="none">2205</text>
<text x="-12.4" y="647.0">686</text>
<text x="12.4" y="647.0">560</text>
<text x="-12.4" y="654.7">436</text>
<text x="12.4" y="654.7">660</text>
<text x="-12.4" y="662.4">258</text>
<text x="12.4" y="662.4">162</text>
<text x="-12.4" y="670.1" fill="#2a9a2a" font-weight="normal" stroke="none">521</text>
<text x="12.4" y="670.1">556</text>
<text x="-12.4" y="677.8">854</text>
<text x="12.4" y="677.8">240</text>
<text x="-12.4" y="685.5">151</text>
<text x="12.4" y="685.5">0</text>
<text x="0" y="693.2" font-weight="normal" stroke="none" fill="#d84040" fill-opacity="0.9">1442</text>
</g>
</g>
<g transform="translate(713,0)">
<g transform="scale(0.8,1)" font-size="6.2" font-weight="bold" text-anchor="middle" fill="#fff" stroke="#fff" stroke-width="0.2" paint-order="stroke">
<text y="631.4" font-size="6.1"><tspan x="-12.4">0</tspan><tspan x="0">:</tspan><tspan x="12.4">0</tspan></text>
<text x="-12.4" y="639.3">0</text>
<text x="12.4" y="639.3">19</text>
<text x="-12.4" y="647.0">25</text>
<text x="12.4" y="647.0">797</text>
<text x="-12.4" y="654.7">358</text>
<text x="12.4" y="654.7">1468</text>
<text x="-12.4" y="662.4">519</text>
<text x="12.4" y="662.4">413</text>
<text x="-12.4" y="670.1">580</text>
<text x="12.4" y="670.1">0</text>
<text x="0" y="677.8" font-weight="normal" stroke="none" fill="#d84040" fill-opacity="0.9">1215</text>
</g>
</g>
<g transform="translate(762,0)">
<g transform="scale(0.8,1)" font-size="6.2" font-weight="bold" text-anchor="middle" fill="#fff" stroke="#fff" stroke-width="0.2" paint-order="stroke">
<text y="646.8" font-size="6.1"><tspan x="-12.4">3</tspan><tspan x="0">:</tspan><tspan x="12.4">1</tspan></text>
<text x="-12.4" y="654.7">0</text>
<text x="12.4" y="654.7">192</text>
<text x="-12.4" y="662.4" fill="#2a9a2a" font-weight="normal" stroke="none">583</text>
<text x="12.4" y="662.4">184</text>
<text x="-12.4" y="670.1">549</text>
<text x="12.4" y="670.1">23</text>
<text x="-12.4" y="677.8" fill="#2a9a2a" font-weight="normal" stroke="none">750</text>
<text x="12.4" y="677.8">114</text>
<text x="-12.4" y="685.5">44</text>
<text x="12.4" y="685.5">19</text>
<text x="-12.4" y="693.2" fill="#2a9a2a" font-weight="normal" stroke="none">438</text>
<text x="12.4" y="693.2">882</text>
<text x="-12.4" y="700.9">561</text>
<text x="12.4" y="700.9" fill="#d84040" font-weight="normal" stroke="none">8</text>
<text x="-12.4" y="708.6">2</text>
<text x="12.4" y="708.6">0</text>
<text x="0" y="716.3" font-weight="normal" stroke="none" fill="#2a9a2a" fill-opacity="0.9">-1505</text>
</g>
</g>
<g transform="translate(811,0)">
<g transform="scale(0.8,1)" font-size="6.2" font-weight="bold" text-anchor="middle" fill="#fff" stroke="#fff" stroke-width="0.2" paint-order="stroke">
<text y="685.3" font-size="6.1"><tspan x="-12.4">1</tspan><tspan x="0">:</tspan><tspan x="12.4">0</tspan></text>
<text x="-12.4" y="693.2">0</text>
<text x="12.4" y="693.2">382</text>
<text x="-12.4" y="700.9">700</text>
<text x="12.4" y="700.9">1083</text>
<text x="-12.4" y="708.6">781</text>
<text x="12.4" y="708.6">97</text>
<text x="-12.4" y="716.3" fill="#2a9a2a" font-weight="normal" stroke="none">1014</text>
<text x="12.4" y="716.3">616</text>
<text x="-12.4" y="724.0">1063</text>
<text x="12.4" y="724.0">224</text>
<text x="0" y="731.7" font-weight="normal" stroke="none" fill="#2a9a2a" fill-opacity="0.9">-1216</text>
</g>
</g>
<g transform="translate(860,0)">
<g transform="scale(0.8,1)" font-size="6.2" font-weight="bold" text-anchor="middle" fill="#fff" stroke="#fff" stroke-width="0.2" paint-order="stroke">
<text y="693.0" font-size="6.1"><tspan x="-12.4">5</tspan><tspan x="0">:</tspan><tspan x="12.4">1</tspan></text>
<text x="-12.4" y="700.9">0</text>
<text x="12.4" y="700.9">30</text>
<text x="-12.4" y="708.6" fill="#2a9a2a" font-weight="normal" stroke="none">97</text>
<text x="12.4" y="708.6">388</text>
<text x="-12.4" y="716.3">398</text>
<text x="12.4" y="716.3" fill="#d84040" font-weight="normal" stroke="none">573</text>
<text x="-12.4" y="724.0">151</text>
<text x="12.4" y="724.0">340</text>
<text x="-12.4" y="731.8" fill="#2a9a2a" font-weight="normal" stroke="none">1643</text>
<text x="12.4" y="731.8">155</text>
<text x="-12.4" y="739.5" fill="#2a9a2a" font-weight="normal" stroke="none">808</text>
<text x="12.4" y="739.5">551</text>
<text x="-12.4" y="747.2">796</text>
<text x="12.4" y="747.2">860</text>
<text x="-12.4" y="754.9">1640</text>
<text x="12.4" y="754.9">300</text>
<text x="-12.4" y="762.6" fill="#2a9a2a" font-weight="normal" stroke="none">1329</text>
<text x="12.4" y="762.6">1381</text>
<text x="-12.4" y="770.3">1252</text>
<text x="12.4" y="770.3">166</text>
<text x="-12.4" y="778.0" fill="#2a9a2a" font-weight="normal" stroke="none">751</text>
<text x="12.4" y="778.0">2525</text>
<text x="-12.4" y="785.7">1518</text>
<text x="12.4" y="785.7">484</text>
<text x="-12.4" y="793.4">963</text>
<text x="12.4" y="793.4">0</text>
<text x="0" y="801.1" font-weight="normal" stroke="none" fill="#2a9a2a" fill-opacity="0.9">-3291</text>
</g>
</g>
<g transform="translate(909,0)">
<g transform="scale(0.8,1)" font-size="6.2" font-weight="bold" text-anchor="middle" fill="#fff" stroke="#fff" stroke-width="0.2" paint-order="stroke">
<text y="723.8" font-size="6.1"><tspan x="-12.4">0</tspan><tspan x="0">:</tspan><tspan x="12.4">2</tspan></text>
<text x="-12.4" y="731.8">0</text>
<text x="12.4" y="731.8">130</text>
<text x="-12.4" y="739.5">80</text>
<text x="12.4" y="739.5">542</text>
<text x="-12.4" y="747.2">839</text>
<text x="12.4" y="747.2">1918</text>
<text x="-12.4" y="754.9">2074</text>
<text x="12.4" y="754.9" fill="#d84040" font-weight="normal" stroke="none">469</text>
<text x="-12.4" y="762.6">44</text>
<text x="12.4" y="762.6" fill="#d84040" font-weight="normal" stroke="none">155</text>
<text x="-12.4" y="770.3">27</text>
<text x="12.4" y="770.3">100</text>
<text x="-12.4" y="778.0">141</text>
<text x="12.4" y="778.0">0</text>
<text x="0" y="785.7" font-weight="normal" stroke="none" fill="#d84040" fill-opacity="0.9">109</text>
</g>
</g>
<g transform="translate(958,0)">
<g transform="scale(0.8,1)" font-size="6.2" font-weight="bold" text-anchor="middle" fill="#fff" stroke="#fff" stroke-width="0.2" paint-order="stroke">
<text y="531.1" font-size="6.1"><tspan x="-12.4">2</tspan><tspan x="0">:</tspan><tspan x="12.4">8</tspan></text>
<text x="-12.4" y="539.1">0</text>
<text x="12.4" y="539.1">511</text>
<text x="-12.4" y="546.8">1276</text>
<text x="12.4" y="546.8">1440</text>
<text x="-12.4" y="554.5">2453</text>
<text x="12.4" y="554.5" fill="#d84040" font-weight="normal" stroke="none">1792</text>
<text x="-12.4" y="562.2">444</text>
<text x="12.4" y="562.2" fill="#d84040" font-weight="normal" stroke="none">3713</text>
<text x="-12.4" y="569.9">220</text>
<text x="12.4" y="569.9">843</text>
<text x="-12.4" y="577.6">697</text>
<text x="12.4" y="577.6">1182</text>
<text x="-12.4" y="585.3">826</text>
<text x="12.4" y="585.3">2034</text>
<text x="-12.4" y="593.0">2256</text>
<text x="12.4" y="593.0">1014</text>
<text x="-12.4" y="600.7">446</text>
<text x="12.4" y="600.7" fill="#d84040" font-weight="normal" stroke="none">2542</text>
<text x="-12.4" y="608.4">0</text>
<text x="12.4" y="608.4">940</text>
<text x="-12.4" y="616.1">498</text>
<text x="12.4" y="616.1">470</text>
<text x="-12.4" y="623.8">661</text>
<text x="12.4" y="623.8">1853</text>
<text x="-12.4" y="631.5">1158</text>
<text x="12.4" y="631.5" fill="#d84040" font-weight="normal" stroke="none">1133</text>
<text x="-12.4" y="639.3">74</text>
<text x="12.4" y="639.3" fill="#d84040" font-weight="normal" stroke="none">849</text>
<text x="-12.4" y="647.0">108</text>
<text x="12.4" y="647.0">29</text>
<text x="-12.4" y="654.7" fill="#2a9a2a" font-weight="normal" stroke="none">514</text>
<text x="12.4" y="654.7">629</text>
<text x="-12.4" y="662.4">335</text>
<text x="12.4" y="662.4">2282</text>
<text x="-12.4" y="670.1">1639</text>
<text x="12.4" y="670.1">889</text>
<text x="-12.4" y="677.8">652</text>
<text x="12.4" y="677.8">1052</text>
<text x="-12.4" y="685.5">446</text>
<text x="12.4" y="685.5" fill="#d84040" font-weight="normal" stroke="none">589</text>
<text x="-12.4" y="693.2">174</text>
<text x="12.4" y="693.2">175</text>
<text x="-12.4" y="700.9">91</text>
<text x="12.4" y="700.9" fill="#d84040" font-weight="normal" stroke="none">497</text>
<text x="-12.4" y="708.6">0</text>
<text x="12.4" y="708.6">663</text>
<text x="-12.4" y="716.3">371</text>
<text x="12.4" y="716.3" fill="#d84040" font-weight="normal" stroke="none">348</text>
<text x="-12.4" y="724.0">54</text>
<text x="12.4" y="724.0">128</text>
<text x="-12.4" y="731.8">262</text>
<text x="12.4" y="731.8">1643</text>
<text x="-12.4" y="739.5">834</text>
<text x="12.4" y="739.5">458</text>
<text x="-12.4" y="747.2" fill="#2a9a2a" font-weight="normal" stroke="none">1289</text>
<text x="12.4" y="747.2">18</text>
<text x="0" y="754.9" font-weight="normal" stroke="none" fill="#d84040" fill-opacity="0.9">11818</text>
</g>
</g>
<g transform="translate(1007,0)">
<g transform="scale(0.8,1)" font-size="6.2" font-weight="bold" text-anchor="middle" fill="#fff" stroke="#fff" stroke-width="0.2" paint-order="stroke">
<text y="477.2" font-size="6.1"><tspan x="-12.4">1</tspan><tspan x="0">:</tspan><tspan x="12.4">1</tspan></text>
<text x="-12.4" y="485.1">178</text>
<text x="12.4" y="485.1">883</text>
<text x="-12.4" y="492.8">1831</text>
<text x="12.4" y="492.8">3406</text>
<text x="-12.4" y="500.5">5122</text>
<text x="12.4" y="500.5">2979</text>
<text x="-12.4" y="508.2">2063</text>
<text x="12.4" y="508.2">3487</text>
<text x="-12.4" y="515.9">8211</text>
<text x="12.4" y="515.9">5670</text>
<text x="-12.4" y="523.6">11245</text>
<text x="12.4" y="523.6">3023</text>
<text x="-12.4" y="531.3">3237</text>
<text x="12.4" y="531.3" fill="#d84040" font-weight="normal" stroke="none">3356</text>
<text x="-12.4" y="539.1">710</text>
<text x="12.4" y="539.1">1426</text>
<text x="-12.4" y="546.8">1064</text>
<text x="12.4" y="546.8">209</text>
<text x="-12.4" y="554.5" fill="#2a9a2a" font-weight="normal" stroke="none">735</text>
<text x="12.4" y="554.5">668</text>
<text x="-12.4" y="562.2">923</text>
<text x="12.4" y="562.2">371</text>
<text x="0" y="569.9" font-weight="normal" stroke="none" fill="#2a9a2a" fill-opacity="0.9">-7721</text>
</g>
</g>
<g transform="translate(1056,0)">
<g transform="scale(0.8,1)" font-size="6.2" font-weight="bold" text-anchor="middle" fill="#fff" stroke="#fff" stroke-width="0.2" paint-order="stroke">
<text y="500.3" font-size="6.1"><tspan x="-12.4">2</tspan><tspan x="0">:</tspan><tspan x="12.4">0</tspan></text>
<text x="-12.4" y="508.2">0</text>
<text x="12.4" y="508.2">189</text>
<text x="-12.4" y="515.9">171</text>
<text x="12.4" y="515.9">409</text>
<text x="-12.4" y="523.6" fill="#2a9a2a" font-weight="normal" stroke="none">1366</text>
<text x="12.4" y="523.6">3711</text>
<text x="-12.4" y="531.3">6084</text>
<text x="12.4" y="531.3">2244</text>
<text x="-12.4" y="539.1">984</text>
<text x="12.4" y="539.1">13</text>
<text x="-12.4" y="546.8" fill="#2a9a2a" font-weight="normal" stroke="none">811</text>
<text x="12.4" y="546.8">385</text>
<text x="-12.4" y="554.5">365</text>
<text x="12.4" y="554.5">1192</text>
<text x="-12.4" y="562.2">1280</text>
<text x="12.4" y="562.2">108</text>
<text x="-12.4" y="569.9">217</text>
<text x="12.4" y="569.9">832</text>
<text x="-12.4" y="577.6">1461</text>
<text x="12.4" y="577.6">1213</text>
<text x="-12.4" y="585.3">927</text>
<text x="12.4" y="585.3">33</text>
<text x="-12.4" y="593.0">13</text>
<text x="12.4" y="593.0">0</text>
<text x="0" y="600.7" font-weight="normal" stroke="none" fill="#2a9a2a" fill-opacity="0.9">-3309</text>
</g>
</g>
<g transform="translate(1106,0)">
<g transform="scale(0.8,1)" font-size="6.2" font-weight="bold" text-anchor="middle" fill="#fff" stroke="#fff" stroke-width="0.2" paint-order="stroke">
<text y="531.1" font-size="6.1"><tspan x="-12.4">1</tspan><tspan x="0">:</tspan><tspan x="12.4">0</tspan></text>
<text x="-12.4" y="539.1">0</text>
<text x="12.4" y="539.1">132</text>
<text x="-12.4" y="546.8" fill="#2a9a2a" font-weight="normal" stroke="none">810</text>
<text x="12.4" y="546.8">1718</text>
<text x="-12.4" y="554.5">2132</text>
<text x="12.4" y="554.5">4078</text>
<text x="-12.4" y="562.2">2493</text>
<text x="12.4" y="562.2">1140</text>
<text x="-12.4" y="569.9">817</text>
<text x="12.4" y="569.9">653</text>
<text x="-12.4" y="577.6">646</text>
<text x="12.4" y="577.6">457</text>
<text x="-12.4" y="585.3">832</text>
<text x="12.4" y="585.3">971</text>
<text x="-12.4" y="593.0">426</text>
<text x="12.4" y="593.0">141</text>
<text x="-12.4" y="600.7">253</text>
<text x="12.4" y="600.7">0</text>
<text x="0" y="608.4" font-weight="normal" stroke="none" fill="#d84040" fill-opacity="0.9">881</text>
</g>
</g>
<g transform="translate(1155,0)">
<g transform="scale(0.8,1)" font-size="6.2" font-weight="bold" text-anchor="middle" fill="#fff" stroke="#fff" stroke-width="0.2" paint-order="stroke">
<text y="508.0" font-size="6.1"><tspan x="-12.4">0</tspan><tspan x="0">:</tspan><tspan x="12.4">2</tspan></text>
<text x="-12.4" y="515.9">0</text>
<text x="12.4" y="515.9">248</text>
<text x="-12.4" y="523.6">247</text>
<text x="12.4" y="523.6" fill="#d84040" font-weight="normal" stroke="none">996</text>
<text x="-12.4" y="531.3">280</text>
<text x="12.4" y="531.3" fill="#d84040" font-weight="normal" stroke="none">300</text>
<text x="-12.4" y="539.1">34</text>
<text x="12.4" y="539.1">549</text>
<text x="-12.4" y="546.8">262</text>
<text x="12.4" y="546.8">555</text>
<text x="-12.4" y="554.5">400</text>
<text x="12.4" y="554.5">1368</text>
<text x="-12.4" y="562.2">2016</text>
<text x="12.4" y="562.2">1075</text>
<text x="-12.4" y="569.9">1465</text>
<text x="12.4" y="569.9">187</text>
<text x="-12.4" y="577.6">88</text>
<text x="12.4" y="577.6">0</text>
<text x="0" y="585.3" font-weight="normal" stroke="none" fill="#d84040" fill-opacity="0.9">416</text>
</g>
</g>
<g transform="translate(1204,0)">
<g transform="scale(0.8,1)" font-size="6.2" font-weight="bold" text-anchor="middle" fill="#fff" stroke="#fff" stroke-width="0.2" paint-order="stroke">
<text y="369.3" font-size="6.1"><tspan x="-12.4">0</tspan><tspan x="0">:</tspan><tspan x="12.4">4</tspan></text>
<text x="-12.4" y="377.2">288</text>
<text x="12.4" y="377.2">1550</text>
<text x="-12.4" y="384.9">889</text>
<text x="12.4" y="384.9">1756</text>
<text x="-12.4" y="392.6">2826</text>
<text x="12.4" y="392.6">2008</text>
<text x="-12.4" y="400.3">1962</text>
<text x="12.4" y="400.3">1880</text>
<text x="-12.4" y="408.0">1371</text>
<text x="12.4" y="408.0" fill="#d84040" font-weight="normal" stroke="none">2036</text>
<text x="-12.4" y="415.7">587</text>
<text x="12.4" y="415.7" fill="#d84040" font-weight="normal" stroke="none">795</text>
<text x="-12.4" y="423.4">24</text>
<text x="12.4" y="423.4">884</text>
<text x="-12.4" y="431.1">361</text>
<text x="12.4" y="431.1">1791</text>
<text x="-12.4" y="438.8">1676</text>
<text x="12.4" y="438.8">1987</text>
<text x="-12.4" y="446.6">1944</text>
<text x="12.4" y="446.6">2329</text>
<text x="-12.4" y="454.3">2216</text>
<text x="12.4" y="454.3">1125</text>
<text x="-12.4" y="462.0">1556</text>
<text x="12.4" y="462.0" fill="#d84040" font-weight="normal" stroke="none">964</text>
<text x="-12.4" y="469.7">298</text>
<text x="12.4" y="469.7">1072</text>
<text x="-12.4" y="477.4">1018</text>
<text x="12.4" y="477.4">408</text>
<text x="-12.4" y="485.1">467</text>
<text x="12.4" y="485.1">1304</text>
<text x="-12.4" y="492.8">806</text>
<text x="12.4" y="492.8">554</text>
<text x="-12.4" y="500.5">548</text>
<text x="12.4" y="500.5">587</text>
<text x="-12.4" y="508.2">349</text>
<text x="12.4" y="508.2" fill="#d84040" font-weight="normal" stroke="none">1300</text>
<text x="-12.4" y="515.9">217</text>
<text x="12.4" y="515.9">511</text>
<text x="-12.4" y="523.6">688</text>
<text x="12.4" y="523.6">34</text>
<text x="-12.4" y="531.3">28</text>
<text x="12.4" y="531.3">0</text>
<text x="0" y="539.0" font-weight="normal" stroke="none" fill="#d84040" fill-opacity="0.9">4681</text>
</g>
</g>
<g transform="translate(1253,0)">
<g transform="scale(0.8,1)" font-size="6.2" font-weight="bold" text-anchor="middle" fill="#fff" stroke="#fff" stroke-width="0.2" paint-order="stroke">
<text y="184.3" font-size="6.1"><tspan x="-12.4">1</tspan><tspan x="0">:</tspan><tspan x="12.4">9</tspan></text>
<text x="-12.4" y="192.2">0</text>
<text x="12.4" y="192.2">617</text>
<text x="-12.4" y="199.9">1091</text>
<text x="12.4" y="199.9">2118</text>
<text x="-12.4" y="207.6">891</text>
<text x="12.4" y="207.6">2985</text>
<text x="-12.4" y="215.3">2723</text>
<text x="12.4" y="215.3">5384</text>
<text x="-12.4" y="223.0">5071</text>
<text x="12.4" y="223.0">4566</text>
<text x="-12.4" y="230.7">4947</text>
<text x="12.4" y="230.7">5384</text>
<text x="-12.4" y="238.4">2959</text>
<text x="12.4" y="238.4">1136</text>
<text x="-12.4" y="246.1">840</text>
<text x="12.4" y="246.1" fill="#d84040" font-weight="normal" stroke="none">170</text>
<text x="-12.4" y="253.9">0</text>
<text x="12.4" y="253.9" fill="#d84040" font-weight="normal" stroke="none">1131</text>
<text x="-12.4" y="269.3">0</text>
<text x="12.4" y="269.3" fill="#d84040" font-weight="normal" stroke="none">736</text>
<text x="-12.4" y="277.0">0</text>
<text x="12.4" y="277.0">514</text>
<text x="-12.4" y="284.7" fill="#2a9a2a" font-weight="normal" stroke="none">2092</text>
<text x="12.4" y="284.7">4915</text>
<text x="-12.4" y="292.4">3127</text>
<text x="12.4" y="292.4">3964</text>
<text x="-12.4" y="300.1">2575</text>
<text x="12.4" y="300.1">1687</text>
<text x="-12.4" y="307.8">1086</text>
<text x="12.4" y="307.8" fill="#d84040" font-weight="normal" stroke="none">1477</text>
<text x="-12.4" y="315.5">140</text>
<text x="12.4" y="315.5">0</text>
<text x="-12.4" y="323.2">0</text>
<text x="12.4" y="323.2">1429</text>
<text x="-12.4" y="330.9">1672</text>
<text x="12.4" y="330.9" fill="#d84040" font-weight="normal" stroke="none">2328</text>
<text x="-12.4" y="338.6">573</text>
<text x="12.4" y="338.6">626</text>
<text x="-12.4" y="346.4">1399</text>
<text x="12.4" y="346.4">1246</text>
<text x="-12.4" y="354.1">928</text>
<text x="12.4" y="354.1">1540</text>
<text x="-12.4" y="361.8">872</text>
<text x="12.4" y="361.8" fill="#d84040" font-weight="normal" stroke="none">554</text>
<text x="-12.4" y="369.5">0</text>
<text x="12.4" y="369.5" fill="#d84040" font-weight="normal" stroke="none">2099</text>
<text x="-12.4" y="377.2">328</text>
<text x="12.4" y="377.2" fill="#d84040" font-weight="normal" stroke="none">223</text>
<text x="-12.4" y="384.9">0</text>
<text x="12.4" y="384.9">1414</text>
<text x="-12.4" y="392.6">1637</text>
<text x="12.4" y="392.6">2909</text>
<text x="-12.4" y="400.3">1204</text>
<text x="12.4" y="400.3">425</text>
<text x="-12.4" y="408.0">684</text>
<text x="12.4" y="408.0" fill="#d84040" font-weight="normal" stroke="none">539</text>
<text x="-12.4" y="415.7">125</text>
<text x="12.4" y="415.7">0</text>
<text x="0" y="423.4" font-weight="normal" stroke="none" fill="#d84040" fill-opacity="0.9">15141</text>
</g>
</g>
<g transform="translate(1302,0)">
<g transform="scale(0.8,1)" font-size="6.2" font-weight="bold" text-anchor="middle" fill="#fff" stroke="#fff" stroke-width="0.2" paint-order="stroke">
<text y="215.1" font-size="6.1"><tspan x="-12.4">3</tspan><tspan x="0">:</tspan><tspan x="12.4">0</tspan></text>
<text x="-12.4" y="223.0">0</text>
<text x="12.4" y="223.0">118</text>
<text x="-12.4" y="230.7" fill="#2a9a2a" font-weight="normal" stroke="none">994</text>
<text x="12.4" y="230.7">1299</text>
<text x="-12.4" y="238.4">709</text>
<text x="12.4" y="238.4">0</text>
<text x="-12.4" y="246.1" fill="#2a9a2a" font-weight="normal" stroke="none">658</text>
<text x="12.4" y="246.1">1348</text>
<text x="-12.4" y="253.9">1873</text>
<text x="12.4" y="253.9">3646</text>
<text x="-12.4" y="261.6">4859</text>
<text x="12.4" y="261.6">2321</text>
<text x="-12.4" y="269.3">3511</text>
<text x="12.4" y="269.3">3469</text>
<text x="-12.4" y="277.0">2090</text>
<text x="12.4" y="277.0">2879</text>
<text x="-12.4" y="284.7">6340</text>
<text x="12.4" y="284.7">1807</text>
<text x="-12.4" y="292.4">2218</text>
<text x="12.4" y="292.4">1292</text>
<text x="-12.4" y="300.1">1946</text>
<text x="12.4" y="300.1">1808</text>
<text x="-12.4" y="307.8">2708</text>
<text x="12.4" y="307.8">670</text>
<text x="-12.4" y="315.5" fill="#2a9a2a" font-weight="normal" stroke="none">2439</text>
<text x="12.4" y="315.5">0</text>
<text x="0" y="323.2" font-weight="normal" stroke="none" fill="#2a9a2a" fill-opacity="0.9">-4203</text>
</g>
</g>
<g transform="translate(1351,0)">
<g transform="scale(0.8,1)" font-size="6.2" font-weight="bold" text-anchor="middle" fill="#fff" stroke="#fff" stroke-width="0.2" paint-order="stroke">
<text y="276.8" font-size="6.1"><tspan x="-12.4">0</tspan><tspan x="0">:</tspan><tspan x="12.4">0</tspan></text>
<text x="-12.4" y="284.7">0</text>
<text x="12.4" y="284.7">755</text>
<text x="-12.4" y="292.4">800</text>
<text x="12.4" y="292.4">2221</text>
<text x="-12.4" y="300.1">3158</text>
<text x="12.4" y="300.1">4029</text>
<text x="-12.4" y="307.8">3630</text>
<text x="12.4" y="307.8">2140</text>
<text x="-12.4" y="315.5">3298</text>
<text x="12.4" y="315.5">2451</text>
<text x="-12.4" y="323.2">3754</text>
<text x="12.4" y="323.2">581</text>
<text x="-12.4" y="330.9">380</text>
<text x="12.4" y="330.9">0</text>
<text x="0" y="338.6" font-weight="normal" stroke="none" fill="#2a9a2a" fill-opacity="0.9">-2823</text>
</g>
</g>
<g transform="translate(1400,0)">
<g transform="scale(0.8,1)" font-size="6.2" font-weight="bold" text-anchor="middle" fill="#fff" stroke="#fff" stroke-width="0.2" paint-order="stroke">
<text y="253.7" font-size="6.1"><tspan x="-12.4">3</tspan><tspan x="0">:</tspan><tspan x="12.4">2</tspan></text>
<text x="-12.4" y="261.6">0</text>
<text x="12.4" y="261.6">12</text>
<text x="-12.4" y="269.3" fill="#2a9a2a" font-weight="normal" stroke="none">503</text>
<text x="12.4" y="269.3" fill="#d84040" font-weight="normal" stroke="none">1011</text>
<text x="-12.4" y="277.0">87</text>
<text x="12.4" y="277.0">1442</text>
<text x="-12.4" y="284.7">578</text>
<text x="12.4" y="284.7">739</text>
<text x="-12.4" y="292.4">1327</text>
<text x="12.4" y="292.4">1570</text>
<text x="-12.4" y="300.1">1554</text>
<text x="12.4" y="300.1">1127</text>
<text x="-12.4" y="307.8">1707</text>
<text x="12.4" y="307.8" fill="#d84040" font-weight="normal" stroke="none">1103</text>
<text x="-12.4" y="315.5">182</text>
<text x="12.4" y="315.5">74</text>
<text x="-12.4" y="323.2" fill="#2a9a2a" font-weight="normal" stroke="none">439</text>
<text x="12.4" y="323.2">373</text>
<text x="-12.4" y="330.9">217</text>
<text x="12.4" y="330.9">857</text>
<text x="-12.4" y="338.6">488</text>
<text x="12.4" y="338.6">1556</text>
<text x="-12.4" y="346.4">1988</text>
<text x="12.4" y="346.4">1329</text>
<text x="-12.4" y="354.1">2852</text>
<text x="12.4" y="354.1">1423</text>
<text x="-12.4" y="361.8">841</text>
<text x="12.4" y="361.8">540</text>
<text x="-12.4" y="369.5" fill="#2a9a2a" font-weight="normal" stroke="none">1860</text>
<text x="12.4" y="369.5">1585</text>
<text x="-12.4" y="377.2">2339</text>
<text x="12.4" y="377.2">1155</text>
<text x="-12.4" y="384.9">625</text>
<text x="12.4" y="384.9">657</text>
<text x="-12.4" y="392.6">793</text>
<text x="12.4" y="392.6">110</text>
<text x="-12.4" y="400.3">382</text>
<text x="12.4" y="400.3">0</text>
<text x="0" y="408.0" font-weight="normal" stroke="none" fill="#2a9a2a" fill-opacity="0.9">-1824</text>
</g>
</g>
<g transform="translate(1449,0)">
<g transform="scale(0.8,1)" font-size="6.2" font-weight="bold" text-anchor="middle" fill="#fff" stroke="#fff" stroke-width="0.2" paint-order="stroke">
<text y="299.9" font-size="6.1"><tspan x="-12.4">0</tspan><tspan x="0">:</tspan><tspan x="12.4">1</tspan></text>
<text x="-12.4" y="307.8">0</text>
<text x="12.4" y="307.8">325</text>
<text x="-12.4" y="315.5">268</text>
<text x="12.4" y="315.5">1758</text>
<text x="-12.4" y="323.2">615</text>
<text x="12.4" y="323.2">1941</text>
<text x="-12.4" y="330.9">1789</text>
<text x="12.4" y="330.9">2006</text>
<text x="-12.4" y="338.6">1946</text>
<text x="12.4" y="338.6">1429</text>
<text x="-12.4" y="346.4">1682</text>
<text x="12.4" y="346.4">2537</text>
<text x="-12.4" y="354.1">1716</text>
<text x="12.4" y="354.1">933</text>
<text x="-12.4" y="361.8">1192</text>
<text x="12.4" y="361.8">469</text>
<text x="-12.4" y="369.5">552</text>
<text x="12.4" y="369.5" fill="#d84040" font-weight="normal" stroke="none">667</text>
<text x="-12.4" y="377.2">213</text>
<text x="12.4" y="377.2">0</text>
<text x="0" y="384.9" font-weight="normal" stroke="none" fill="#d84040" fill-opacity="0.9">2092</text>
</g>
</g>
<g transform="translate(1499,0)">
<g transform="scale(0.8,1)" font-size="6.2" font-weight="bold" text-anchor="middle" fill="#fff" stroke="#fff" stroke-width="0.2" paint-order="stroke">
<text y="299.9" font-size="6.1"><tspan x="-12.4">0</tspan><tspan x="0">:</tspan><tspan x="12.4">1</tspan></text>
<text x="-12.4" y="307.8">0</text>
<text x="12.4" y="307.8">97</text>
<text x="-12.4" y="315.5">178</text>
<text x="12.4" y="315.5">470</text>
<text x="-12.4" y="323.2">910</text>
<text x="12.4" y="323.2">1303</text>
<text x="-12.4" y="330.9">643</text>
<text x="12.4" y="330.9">1283</text>
<text x="-12.4" y="338.6">648</text>
<text x="12.4" y="338.6">734</text>
<text x="-12.4" y="346.4">669</text>
<text x="12.4" y="346.4">1657</text>
<text x="-12.4" y="354.1">1889</text>
<text x="12.4" y="354.1">1341</text>
<text x="-12.4" y="361.8">2238</text>
<text x="12.4" y="361.8">1233</text>
<text x="-12.4" y="369.5">671</text>
<text x="12.4" y="369.5">935</text>
<text x="-12.4" y="377.2">1267</text>
<text x="12.4" y="377.2">864</text>
<text x="-12.4" y="384.9">1462</text>
<text x="12.4" y="384.9" fill="#d84040" font-weight="normal" stroke="none">1231</text>
<text x="-12.4" y="392.6">303</text>
<text x="12.4" y="392.6">0</text>
<text x="0" y="400.3" font-weight="normal" stroke="none" fill="#d84040" fill-opacity="0.9">270</text>
</g>
</g>
</g>
<rect x="8" y="306" width="1769" height="1" fill="#4f70d8"/>
<rect x="8" y="522" width="1715.5" height="1" fill="#e2bd52"/>
<rect x="8" y="738" width="1869" height="1" fill="#c254d0"/>
<rect x="1777" y="303.6" width="8.3" height="6.3" fill="#4a63b8"/>
<text x="1781.2" y="308.7" font-size="6" font-weight="bold" fill="#fff" text-anchor="middle" textLength="7.700000000000001" lengthAdjust="spacingAndGlyphs">VAH</text>
<rect x="1723.4" y="519.4" width="8.6" height="6.3" fill="#c9aa55"/>
<text x="1727.7" y="524.5" font-size="6" font-weight="bold" fill="#fff" text-anchor="middle" textLength="8.0" lengthAdjust="spacingAndGlyphs">POC</text>
<rect x="1876.9" y="735.3" width="8" height="6.3" fill="#b24cc0"/>
<text x="1880.9" y="740.4" font-size="6" font-weight="bold" fill="#fff" text-anchor="middle" textLength="7.4" lengthAdjust="spacingAndGlyphs">VAL</text>
<rect x="8" y="881" width="1904" height="1" fill="#32374e"/>
<rect x="8" y="904" width="1904" height="2" fill="#262b42"/>
<rect x="959.8" y="881" width="1" height="24" fill="#3a3f56"/>
<text x="69.0" y="919.3" font-size="13" fill="#555a70" text-anchor="middle">02-25 22:50</text>
<text x="219.0" y="919.3" font-size="13" fill="#555a70" text-anchor="middle">09:05</text>
<text x="366.4" y="919.3" font-size="13" fill="#555a70" text-anchor="middle">09:20</text>
<text x="513.8" y="919.3" font-size="13" fill="#555a70" text-anchor="middle">09:35</text>
<text x="661.2" y="919.3" font-size="13" fill="#555a70" text-anchor="middle">09:50</text>
<text x="808.6" y="919.3" font-size="13" fill="#555a70" text-anchor="middle">10:05</text>
<text x="956.0" y="919.3" font-size="13" fill="#555a70" text-anchor="middle">10:35</text>
<text x="1103.4" y="919.3" font-size="13" fill="#555a70" text-anchor="middle">10:50</text>
<text x="1250.8" y="919.3" font-size="13" fill="#555a70" text-anchor="middle">11:05</text>
<text x="1398.2" y="919.3" font-size="13" fill="#555a70" text-anchor="middle">11:20</text>
<text x="484" y="897.5" font-size="13" fill="#4a72d8" text-anchor="middle" font-family="'Liberation Sans','Noto Sans CJK SC',sans-serif">信号点</text>
<text x="1436.3" y="898" font-size="13" fill="#c3c5ce" stroke="#c3c5ce" stroke-width="0.3" text-anchor="middle">Cum Delta</text>
<defs><pattern id="chk" width="1.5" height="1.5" patternUnits="userSpaceOnUse" patternTransform="rotate(32) skewX(-26)"><rect width="1.5" height="1.5" fill="#f44b3a" fill-opacity="0.45"/><rect width="0.9" height="0.9" fill="#f44b3a"/></pattern><linearGradient id="gg" x1="0" y1="0" x2="0" y2="1"><stop offset="0" stop-color="#24544a"/><stop offset="0.5" stop-color="#1f4244"/><stop offset="0.85" stop-color="#1b2a3b"/><stop offset="1" stop-color="#1a2137"/></linearGradient><linearGradient id="gr" x1="0" y1="0" x2="0" y2="1"><stop offset="0" stop-color="#6e2735"/><stop offset="0.5" stop-color="#552536"/><stop offset="0.85" stop-color="#2e2038"/><stop offset="1" stop-color="#1e1f37"/></linearGradient></defs>
<g transform="translate(172.0,870.6)">
<circle r="8" fill="url(#gg)"/>
<path d="M-3.7,-2.6 L3.7,-2.6 L0,3.6 Z" fill="#2bab1f"/>
</g>
<g transform="translate(320.0,870.6)">
<circle r="8" fill="url(#gg)"/>
<path d="M-3.7,-2.6 L3.7,-2.6 L0,3.6 Z" fill="#2bab1f"/>
</g>
<g transform="translate(663.0,870.6)">
<circle r="8" fill="url(#gr)"/>
<path d="M-3.7,2.9 L3.7,2.9 L0,-3.3 Z" fill="#f44b3a"/>
</g>
<g transform="translate(860.0,870.6)">
<circle r="8" fill="url(#gg)"/>
<g transform="scale(1,1)"><circle cx="1.5" cy="2" r="1.85" fill="none" stroke="#2bab1f" stroke-width="1.3"/><path d="M-3,-2.4 L2.6,-0.2 L-0.7,3 Z" fill="#2bab1f"/><circle cx="1.5" cy="2" r="1.2" fill="#224440" fill-opacity="0"/></g>
</g>
<g transform="translate(958.0,870.6)">
<circle r="8" fill="url(#gr)"/>
<g transform="scale(-1,1)"><circle cx="1.5" cy="2" r="1.85" fill="none" stroke="#f44b3a" stroke-width="1.3"/><path d="M-3,-2.4 L2.6,-0.2 L-0.7,3 Z" fill="#f44b3a"/><circle cx="1.5" cy="2" r="1.2" fill="#224440" fill-opacity="0"/></g>
</g>
<g transform="translate(1204.0,870.6)">
<circle r="8" fill="url(#gr)"/>
<g transform="scale(-1,1)"><circle cx="1.5" cy="2" r="1.85" fill="none" stroke="#f44b3a" stroke-width="1.3"/><path d="M-3,-2.4 L2.6,-0.2 L-0.7,3 Z" fill="#f44b3a"/><circle cx="1.5" cy="2" r="1.2" fill="#224440" fill-opacity="0"/></g>
</g>
<g transform="translate(1253.0,870.6)">
<circle r="8" fill="url(#gr)"/>
<path d="M0,-4.6 L4.2,-2.1 L0,0.5 L-4.2,-2.1 Z" fill="url(#chk)"/><path d="M-4.2,1.7 L0,-0.5 L4.2,1.7 L0,4.6 Z" fill="#f44b3a"/>
</g>
<g transform="translate(1302.0,870.6)">
<circle r="8" fill="url(#gg)"/>
<path d="M-1.35,-4.1 L1.35,-4.1 L1.35,0.3 L3.9,0.3 L0,4.6 L-3.9,0.3 L-1.35,0.3 Z" fill="#2bab1f"/>
</g>
<g transform="translate(1400.0,870.6)">
<circle r="8" fill="url(#gg)"/>
<path d="M-3.7,-2.6 L3.7,-2.6 L0,3.6 Z" fill="#2bab1f"/>
</g>
</svg>
<div class="abs" style="left:0;top:0;width:28px;height:5px;background:#1f2743;clip-path:polygon(0 0,100% 0,80% 100%,0 100%)"></div>
<div class="abs" style="left:21.5px;top:0;width:10.5px;height:5px;background:#25325a;clip-path:polygon(52% 0,100% 0,50% 100%,0 100%)"></div>
<div class="abs" style="left:8px;top:43px;width:1904px;height:1px;background:#24283f"></div>
<div class="abs" id="title" style="left:19.6px;top:14.7px;font-size:16px;font-weight:bold;color:#fff">实时订单流</div>
<div class="abs" style="left:106.1px;top:14px;width:14px;height:14px;border:1px solid #6a6e84;border-radius:50%;color:#6a6e84;font-size:10.5px;text-align:center;line-height:14px">?</div>
<div class="abs tab" id="t1" style="left:146.5px">1分</div>
<div class="abs" id="t5" style="left:183.7px;top:13.5px;font-size:16px;font-weight:bold;color:#ececf0">5分</div>
<div class="abs" style="left:187.7px;top:35px;width:16px;height:2px;background:#4a6fd6"></div>
<div class="abs tab" id="t15" style="left:225.3px">15分</div>
<div class="abs tab" id="t30" style="left:270px">30分</div>
<div class="abs tab" id="t60" style="left:316px">1小时</div>
<div class="abs tab" id="td" style="left:367.8px">日</div>
<svg class="abs" style="left:1883px;top:13px" width="17" height="17" viewBox="0 0 17 17" fill="none" stroke="#8d91a3" stroke-width="1"><path d="M14.5,2 L9.6,6.9 M9.6,3.2 L9.6,6.9 L13.3,6.9 M2,14.5 L6.9,9.6 M3.2,9.6 L6.9,9.6 L6.9,13.3"/></svg>
<div class="abs" style="left:777px;top:52px;width:366px;height:28px;background:#232c4f;border-radius:2px"></div>
<div class="abs" id="sym" style="left:786.5px;top:58.6px;font-size:13.5px;font-weight:bold;color:#fff">热卷2505</div>
<div class="abs" id="px" style="left:1018.3px;top:59.3px;font-size:13.6px;color:#ea4444;transform-origin:0 0;transform:scaleX(0.845);-webkit-text-stroke:0.5px #ea4444">3423.00</div>
<div class="abs" id="pc" style="left:1075.6px;top:59.3px;font-size:13.6px;color:#ea4444;transform-origin:0 0;transform:scaleX(0.845);-webkit-text-stroke:0.5px #ea4444">+0.91%</div>
<svg class="abs" style="left:1120px;top:61px" width="15" height="10" viewBox="0 0 15 10" fill="none" stroke="#c8cad4" stroke-width="1"><path d="M1.5,2.3 L7.3,8.1 L13.1,2.3"/></svg>
<div class="abs" id="ps" style="left:1766px;top:91px;font-size:12px;color:#e0e1e6;-webkit-text-stroke:0.2px #e0e1e6">参数设置</div>
<div class="abs" style="left:1822px;top:92px;width:1px;height:10px;background:#3a3f57"></div>
<div class="abs" id="cv" style="left:1830.3px;top:91px;font-size:12px;color:#e0e1e6;-webkit-text-stroke:0.2px #e0e1e6">自定义量价</div>
<svg class="abs" style="left:1894px;top:91px" width="12" height="12" viewBox="0 0 12 12" fill="none" stroke="#d4d5dc" stroke-width="1.1"><path d="M6,1 L10.3,3.5 L10.3,8.5 L6,11 L1.7,8.5 L1.7,3.5 Z"/><circle cx="6" cy="6" r="1.2" fill="#d4d5dc" stroke="none"/></svg>
<div class="abs" style="left:1710px;top:110px;width:17px;height:34px;border:1px solid #393e56;box-sizing:border-box"></div>
<div class="abs" style="left:1710px;top:127px;width:17px;height:1px;background:#393e56"></div>
<svg class="abs" style="left:1710px;top:110px" width="17" height="17" viewBox="0 0 17 17" fill="none" stroke="#d0d2da" stroke-width="1.1"><path d="M7.2,5.6 L10.4,8.9 L7.2,12.2"/></svg>
<div class="abs" style="left:1710px;top:131px;width:17px;text-align:center;font-size:11px;color:#d0d2da">?</div>
</body></html>
